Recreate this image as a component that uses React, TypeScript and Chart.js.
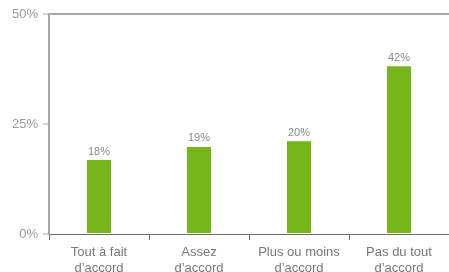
import React, { useEffect, useRef } from "react";
import { Chart, registerables } from "chart.js";

Chart.register(...registerables);

const categories: string[][] = [
  ["Tout à fait", "d’accord"],
  ["Assez", "d’accord"],
  ["Plus ou moins", "d’accord"],
  ["Pas du tout", "d’accord"],
];
const barValues = [16.8, 19.8, 21.1, 38.1];
const valueLabels = ["18%", "19%", "20%", "42%"];
const yTicks = [0, 25, 50];

const FONT = "'Liberation Sans', Arial, sans-serif";

const valueLabelPlugin = {
  id: "valueLabels",
  afterDatasetsDraw(chart: any) {
    const ctx = chart.ctx;
    const meta = chart.getDatasetMeta(0);
    ctx.save();
    ctx.font = `11px ${FONT}`;
    ctx.fillStyle = "#8a8a8a";
    ctx.textAlign = "center";
    ctx.textBaseline = "bottom";
    meta.data.forEach((bar: any, i: number) => {
      ctx.fillText(valueLabels[i], bar.x, bar.y - 3);
    });
    ctx.restore();
  },
};

export default function App() {
  const ref = useRef<HTMLCanvasElement>(null);
  useEffect(() => {
    document.body.style.margin = "0";
    const chart = new Chart(ref.current!, {
      type: "bar",
      data: {
        labels: categories,
        datasets: [
          {
            data: barValues,
            backgroundColor: "#77b51c",
            barPercentage: 0.24,
            categoryPercentage: 1,
          },
        ],
      },
      options: {
        animation: false,
        responsive: false,
        maintainAspectRatio: false,
        layout: { padding: { top: 14, right: 0, left: 0, bottom: 0 } },
        plugins: { legend: { display: false }, tooltip: { enabled: false } },
        scales: {
          x: {
            afterFit: (s: any) => {
              s.height = 38;
            },
            grid: {
              offset: true,
              drawOnChartArea: false,
              tickLength: 6,
              tickColor: "#6e6a66",
            },
            border: { color: "#6e6a66", width: 1 },
            ticks: {
              color: "#777777",
              font: { family: FONT, size: 13 },
              padding: 5,
              maxRotation: 0,
            },
          },
          y: {
            min: 0,
            max: 50,
            afterFit: (s: any) => {
              s.width = 49;
            },
            afterBuildTicks: (s: any) => {
              s.ticks = yTicks.map((v) => ({ value: v }));
            },
            grid: {
              color: (c: any) => (c.tick && c.tick.value === 50 ? "#aca7a2" : "rgba(0,0,0,0)"),
              tickColor: "#aca7a2",
              tickLength: 6,
              lineWidth: 2,
              tickWidth: 1,
            },
            border: { color: "#aca7a2", width: 2 },
            ticks: {
              color: "#999999",
              font: { family: FONT, size: 13 },
              padding: 5,
              callback: (v: any) => v + "%",
            },
          },
        },
      },
      plugins: [valueLabelPlugin],
    });
    return () => chart.destroy();
  }, []);
  return (
    <div style={{ position: "absolute", left: 0, top: 0, width: 449, height: 272 }}>
      <canvas ref={ref} width={449} height={272} />
    </div>
  );
}
